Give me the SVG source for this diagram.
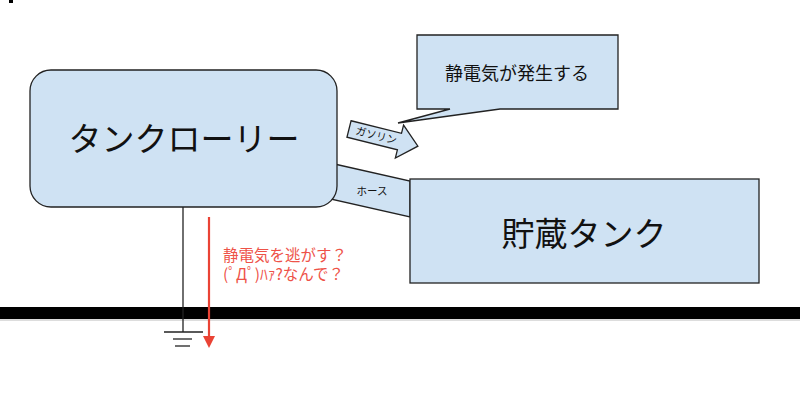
<svg xmlns="http://www.w3.org/2000/svg" width="800" height="409" viewBox="0 0 800 409">
<defs>
<style>
.box{fill:#cfe2f3;stroke:#222;stroke-width:1.3}
.t{font-family:"Noto Sans CJK JP","Noto Sans",sans-serif;fill:#111}
.red{font-family:"Noto Sans CJK JP","Noto Sans",sans-serif;fill:#ee5248;font-size:15.5px}
.ln{stroke:#222;stroke-width:1.3;fill:none}
</style>
</defs>
<rect x="0" y="0" width="800" height="409" fill="#fff"/>
<rect x="9" y="0" width="4" height="3" fill="#000"/>

<g id="ground">
<rect x="0" y="307" width="800" height="12" fill="#000"/>
<line x1="0" y1="320" x2="800" y2="320" stroke="#bbb" stroke-width="1"/>
</g>

<g id="connectors">
<line class="ln" x1="183" y1="207" x2="183" y2="332"/>
<line class="ln" x1="164" y1="332" x2="203" y2="332"/>
<line class="ln" x1="173" y1="339" x2="192" y2="339"/>
<line class="ln" x1="175" y1="346" x2="190" y2="346"/>
<line x1="209" y1="217" x2="209" y2="337" stroke="#ea4335" stroke-width="2.2"/>
<path d="M203,336 L215,336 L209,348 Z" fill="#ea4335"/>
</g>

<g id="hose">
<polygon class="box" points="330,163 410,181 410,217 326,198"/>
<text class="t" x="372" y="195" font-size="10.5" text-anchor="middle">ホース</text>
</g>

<g id="lorry">
<rect class="box" x="30" y="70" width="307" height="137" rx="21" ry="21"/>
<text class="t" x="184" y="151" font-size="33" text-anchor="middle">タンクローリー</text>
</g>

<g id="tank">
<rect class="box" x="410" y="179" width="349" height="104"/>
<text class="t" x="584" y="246" font-size="33" text-anchor="middle">貯蔵タンク</text>
</g>

<g id="callout">
<path class="box" d="M417,35 L618,35 L618,109 L500,109 L398,123 L450,109 L417,109 Z"/>
<text class="t" x="517" y="80" font-size="18" text-anchor="middle">静電気が発生する</text>
</g>

<g id="gasoline" transform="translate(349,129) rotate(14)">
<polygon class="box" points="0,-8.5 52,-8.5 52,-17 71,0 52,17 52,8.5 0,8.5"/>
<text class="t" x="28" y="3.5" font-size="10.5" text-anchor="middle">ガソリン</text>
</g>

<g id="note">
<text class="red" x="223" y="261">静電気を逃がす？</text>
<text class="red" x="223" y="280">(ﾟДﾟ)ﾊｧ?なんで？</text>
</g>
</svg>
